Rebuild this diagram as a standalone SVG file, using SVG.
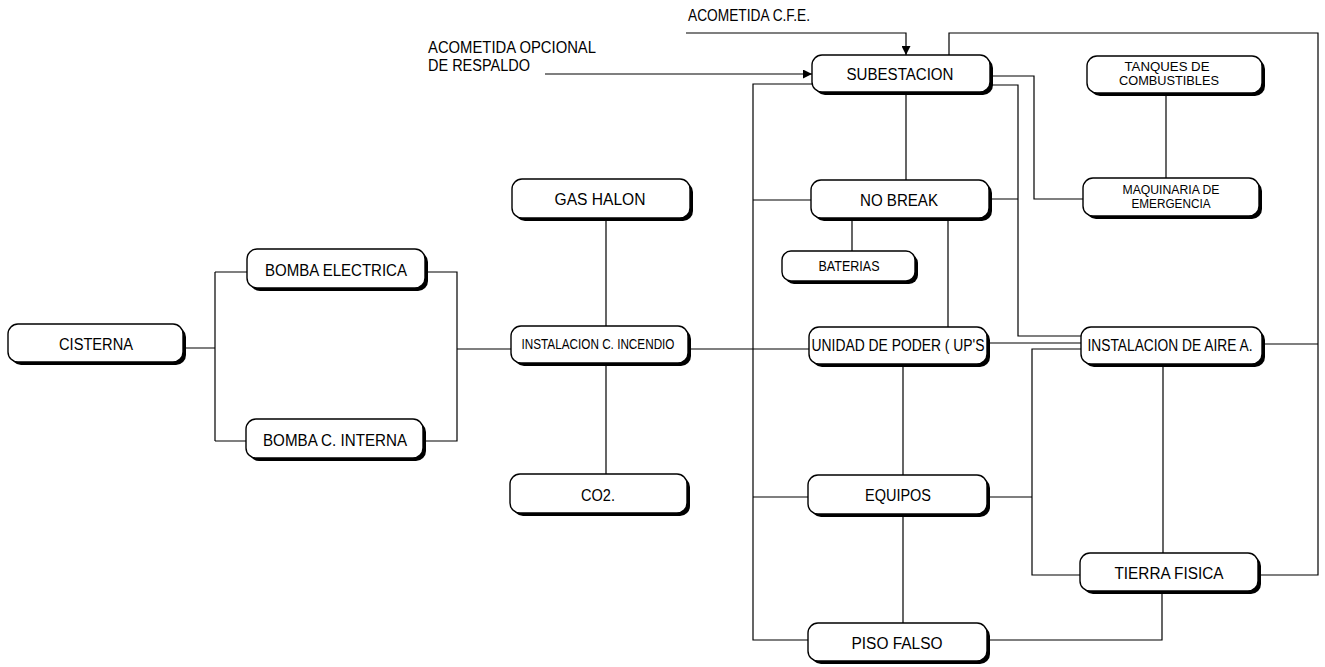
<svg xmlns="http://www.w3.org/2000/svg" width="1325" height="667" viewBox="0 0 1325 667">
  <style>
    .bg { fill: #ffffff; }
    .box { fill: #ffffff; stroke: #000000; stroke-width: 1.4; }
    .shadow { fill: #000000; }
    .wire { fill: none; stroke: #000000; stroke-width: 1.2; }
    .lbl { font-family: "Liberation Sans", Arial, sans-serif; font-size: 16px; fill: #000000; text-anchor: middle; }
    .sm { font-size: 14px; }
    .xs { font-size: 12px; }
    .free { font-family: "Liberation Sans", Arial, sans-serif; font-size: 16px; fill: #000000; }
  </style>
  <defs>
    <marker id="arrow" viewBox="0 0 10 10" refX="10" refY="5" markerWidth="9" markerHeight="9" markerUnits="userSpaceOnUse" orient="auto">
      <path d="M0,0 L10,5 L0,10 z" fill="#000000"/>
    </marker>
  </defs>
  <rect class="bg" x="0" y="0" width="1325" height="667"/>

  <!-- connectors -->
  <g id="connectors">
    <!-- pumps -->
    <path class="wire" d="M185,348 H215 M215,272 V441 M215,272 H247 M215,441 H246"/>
    <path class="wire" d="M427,272 H457 V441 H425 M457,349 H511"/>
    <!-- fire installation -->
    <path class="wire" d="M606,218 V326 M606,363 V474"/>
    <path class="wire" d="M688,349 H809"/>
    <!-- left bus -->
    <path class="wire" d="M812,84 H753 V640 H808 M753,200 H811 M753,497 H808"/>
    <!-- central column -->
    <path class="wire" d="M906,91 V180 M852,218 V251 M948,218 V327 M903,364 V475 M903,514 V623"/>
    <!-- substation feeds -->
    <path class="wire" d="M991,76 H1034 V199 H1083"/>
    <path class="wire" d="M991,85 H1018 V336 H1081 M989,199 H1018"/>
    <path class="wire" d="M988,343 H1081"/>
    <path class="wire" d="M987,497 H1032 M1081,349 H1032 V575 H1080"/>
    <path class="wire" d="M1166,94 V179"/>
    <path class="wire" d="M1163,364 V553 M1162,591 V640 H987"/>
    <!-- outer loop -->
    <path class="wire" d="M949,55 V33 H1318 V575 H1258 M1262,344 H1318"/>
    <!-- incoming supplies -->
    <path class="wire" d="M686,33 H906 V55" marker-end="url(#arrow)"/>
    <path class="wire" d="M545,74 H812" marker-end="url(#arrow)"/>
  </g>

  <!-- free labels -->
  <text class="free" x="688" y="21" textLength="122" lengthAdjust="spacingAndGlyphs">ACOMETIDA C.F.E.</text>
  <text class="free" x="428" y="53" textLength="168" lengthAdjust="spacingAndGlyphs">ACOMETIDA OPCIONAL</text>
  <text class="free" x="428" y="71" textLength="102" lengthAdjust="spacingAndGlyphs">DE RESPALDO</text>

  <!-- nodes -->
  <g id="cisterna">
    <rect class="shadow" x="11" y="327" width="175" height="38" rx="10"/>
    <rect class="box" x="8" y="324" width="175" height="38" rx="10"/>
    <text class="lbl" x="96" y="350" textLength="74" lengthAdjust="spacingAndGlyphs">CISTERNA</text>
  </g>
  <g id="bomba-electrica">
    <rect class="shadow" x="250" y="252" width="178" height="39" rx="10"/>
    <rect class="box" x="247" y="249" width="178" height="39" rx="10"/>
    <text class="lbl" x="336" y="276" textLength="142" lengthAdjust="spacingAndGlyphs">BOMBA ELECTRICA</text>
  </g>
  <g id="bomba-c-interna">
    <rect class="shadow" x="249" y="422" width="177" height="39" rx="10"/>
    <rect class="box" x="246" y="419" width="177" height="39" rx="10"/>
    <text class="lbl" x="335" y="446" textLength="144" lengthAdjust="spacingAndGlyphs">BOMBA C. INTERNA</text>
  </g>
  <g id="gas-halon">
    <rect class="shadow" x="515" y="182" width="178" height="39" rx="10"/>
    <rect class="box" x="512" y="179" width="178" height="39" rx="10"/>
    <text class="lbl" x="600" y="205" textLength="91" lengthAdjust="spacingAndGlyphs">GAS HALON</text>
  </g>
  <g id="instalacion-c-incendio">
    <rect class="shadow" x="514" y="329" width="177" height="37" rx="10"/>
    <rect class="box" x="511" y="326" width="177" height="37" rx="10"/>
    <text class="lbl sm" x="598" y="349" textLength="153" lengthAdjust="spacingAndGlyphs">INSTALACION C. INCENDIO</text>
  </g>
  <g id="co2">
    <rect class="shadow" x="513" y="477" width="177" height="39" rx="10"/>
    <rect class="box" x="510" y="474" width="177" height="39" rx="10"/>
    <text class="lbl" x="598" y="501" textLength="34" lengthAdjust="spacingAndGlyphs">CO2.</text>
  </g>
  <g id="subestacion">
    <rect class="shadow" x="815" y="58" width="178" height="37" rx="10"/>
    <rect class="box" x="812" y="55" width="178" height="37" rx="10"/>
    <text class="lbl" x="900" y="80" textLength="107" lengthAdjust="spacingAndGlyphs">SUBESTACION</text>
  </g>
  <g id="tanques">
    <rect class="shadow" x="1090" y="59" width="175" height="37" rx="10"/>
    <rect class="box" x="1087" y="56" width="175" height="37" rx="10"/>
    <text class="lbl xs" x="1167" y="71" textLength="85" lengthAdjust="spacingAndGlyphs">TANQUES DE</text>
    <text class="lbl xs" x="1169" y="85" textLength="100" lengthAdjust="spacingAndGlyphs">COMBUSTIBLES</text>
  </g>
  <g id="no-break">
    <rect class="shadow" x="814" y="183" width="178" height="38" rx="10"/>
    <rect class="box" x="811" y="180" width="178" height="38" rx="10"/>
    <text class="lbl" x="899" y="206" textLength="78" lengthAdjust="spacingAndGlyphs">NO BREAK</text>
  </g>
  <g id="maquinaria">
    <rect class="shadow" x="1086" y="181" width="176" height="38" rx="10"/>
    <rect class="box" x="1083" y="178" width="176" height="38" rx="10"/>
    <text class="lbl xs" x="1171" y="194" textLength="97" lengthAdjust="spacingAndGlyphs">MAQUINARIA DE</text>
    <text class="lbl xs" x="1171" y="208" textLength="79" lengthAdjust="spacingAndGlyphs">EMERGENCIA</text>
  </g>
  <g id="baterias">
    <rect class="shadow" x="785" y="254" width="133" height="30" rx="9"/>
    <rect class="box" x="782" y="251" width="133" height="30" rx="9"/>
    <text class="lbl sm" x="849" y="271" textLength="61" lengthAdjust="spacingAndGlyphs">BATERIAS</text>
  </g>
  <g id="unidad-de-poder">
    <rect class="shadow" x="812" y="330" width="178" height="37" rx="10"/>
    <rect class="box" x="809" y="327" width="178" height="37" rx="10"/>
    <text class="lbl" x="898" y="351" textLength="173" lengthAdjust="spacingAndGlyphs">UNIDAD DE PODER ( UP'S</text>
  </g>
  <g id="instalacion-aire">
    <rect class="shadow" x="1084" y="330" width="181" height="37" rx="10"/>
    <rect class="box" x="1081" y="327" width="181" height="37" rx="10"/>
    <text class="lbl" x="1170" y="351" textLength="165" lengthAdjust="spacingAndGlyphs">INSTALACION DE AIRE A.</text>
  </g>
  <g id="equipos">
    <rect class="shadow" x="811" y="478" width="179" height="39" rx="10"/>
    <rect class="box" x="808" y="475" width="179" height="39" rx="10"/>
    <text class="lbl" x="898" y="501" textLength="66" lengthAdjust="spacingAndGlyphs">EQUIPOS</text>
  </g>
  <g id="tierra-fisica">
    <rect class="shadow" x="1083" y="556" width="178" height="38" rx="10"/>
    <rect class="box" x="1080" y="553" width="178" height="38" rx="10"/>
    <text class="lbl" x="1169" y="579" textLength="109" lengthAdjust="spacingAndGlyphs">TIERRA FISICA</text>
  </g>
  <g id="piso-falso">
    <rect class="shadow" x="811" y="626" width="179" height="38" rx="10"/>
    <rect class="box" x="808" y="623" width="179" height="38" rx="10"/>
    <text class="lbl" x="897" y="649" textLength="91" lengthAdjust="spacingAndGlyphs">PISO FALSO</text>
  </g>
</svg>
